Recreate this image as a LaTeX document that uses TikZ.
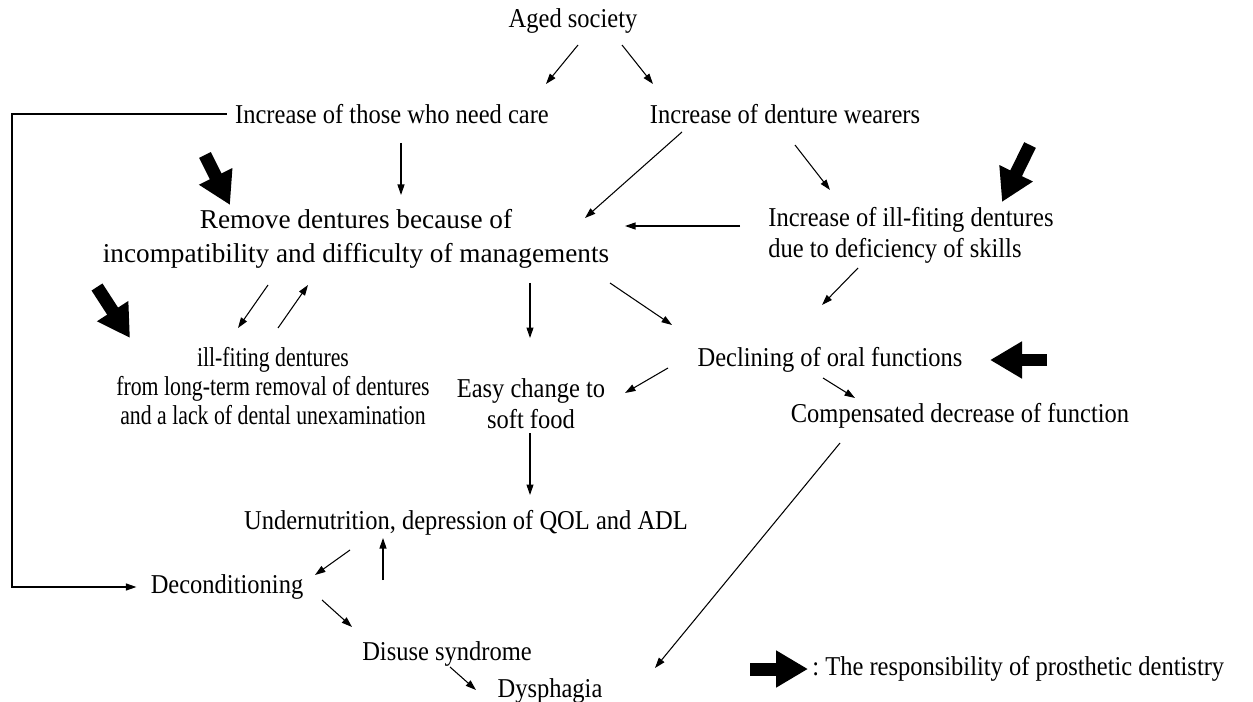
\documentclass[tikz,border=0pt]{standalone}
\usepackage{fontspec}
\setmainfont{Liberation Serif}[FakeStretch=0.9]
\newfontfamily\widerfont{Liberation Serif}[FakeStretch=1.0]
\newfontfamily\narrowerfont{Liberation Serif}[FakeStretch=0.8]
\usetikzlibrary{arrows.meta}
\begin{document}
\begin{tikzpicture}[x=0.02cm,y=-0.02cm,
  lbl/.style={inner sep=0pt, font=\fontsize{15.5pt}{17.5pt}\selectfont, align=center},
  narrowlbl/.style={lbl, font=\narrowerfont\fontsize{15.5pt}{16.5pt}\selectfont},
  arr/.style={line width=0.6pt, -{Triangle[length=0.21cm,width=0.14cm]}},
  bigarr/.style={line width=0.26cm, -{Triangle[length=0.64cm,width=0.7cm]}}]
\useasboundingbox (0,0) rectangle (1253,702);
% nodes
\node[lbl] (aged) at (573,21) {Aged society};
\node[lbl] (care) at (392,114) {Increase of those who need care};
\node[lbl] (wear) at (785,114) {Increase of denture wearers};
\node[lbl, font=\widerfont\fontsize{15.5pt}{19.5pt}\selectfont] (remove) at (356,239) {Remove dentures because of\\incompatibility and difficulty of managements};
\node[lbl, anchor=west, align=left] (illfit) at (768,235) {Increase of ill-fiting dentures\\due to deficiency of skills};
\node[narrowlbl] (illrem) at (273,386) {ill-fiting dentures\\from long-term removal of dentures\\and a lack of dental unexamination};
\node[lbl] (easy) at (531,404) {Easy change to\\soft food};
\node[lbl] (decl) at (830,360) {Declining of oral functions};
\node[lbl] (comp) at (960,416) {Compensated decrease of function};
\node[lbl] (under) at (466,523) {Undernutrition,\ depression of QOL and ADL};
\node[lbl] (decon) at (227,587) {Deconditioning};
\node[lbl] (disuse) at (447,654) {Disuse syndrome};
\node[lbl] (dysph) at (550,691) {Dysphagia};
\node[lbl, anchor=west] (legend) at (812,669) {:\ The responsibility of prosthetic dentistry};
\coordinate (bk) at (12,587);
% thin arrows
\draw[arr] ([shift={(5,24)}]aged.center) -- ([shift={(154,-30)}]care.center);
\draw[arr] ([shift={(49,24)}]aged.center) -- ([shift={(-132,-30)}]wear.center);
\draw[arr] ([shift={(9,29)}]care.center) -- ([shift={(45,-44)}]remove.center);
\draw[arr] ([shift={(-103,18)}]wear.center) -- ([shift={(229,-21)}]remove.center);
\draw[arr] ([shift={(10,31)}]wear.center) -- ([shift={(62,-45)}]illfit.west);
\draw[arr] ([shift={(-28,-9)}]illfit.west) -- ([shift={(269,-13)}]remove.center);
\draw[arr] ([shift={(-88,46)}]remove.center) -- ([shift={(-35,-58)}]illrem.center);
\draw[arr] ([shift={(5,-58)}]illrem.center) -- ([shift={(-48,46)}]remove.center);
\draw[arr] ([shift={(174,44)}]remove.center) -- ([shift={(-1,-66)}]easy.center);
\draw[arr] ([shift={(254,44)}]remove.center) -- ([shift={(-158,-35)}]decl.center);
\draw[arr] ([shift={(90,33)}]illfit.west) -- ([shift={(-8,-55)}]decl.center);
\draw[arr] ([shift={(-162,8)}]decl.center) -- ([shift={(94,-11)}]easy.center);
\draw[arr] ([shift={(-7,18)}]decl.center) -- ([shift={(-105,-18)}]comp.center);
\draw[arr] ([shift={(-1,29)}]easy.center) -- ([shift={(64,-28)}]under.center);
\draw[arr] ([shift={(-120,27)}]comp.center) -- ([shift={(105,-23)}]dysph.center);
\draw[arr] ([shift={(-116,27)}]under.center) -- ([shift={(88,-12)}]decon.center);
\draw[arr] ([shift={(-64,-74)}]disuse.center) -- ([shift={(-83,15)}]under.center);
\draw[arr] ([shift={(95,13)}]decon.center) -- ([shift={(-95,-27)}]disuse.center);
\draw[arr] ([shift={(3,13)}]disuse.center) -- ([shift={(-74,-1)}]dysph.center);
\draw[arr] ([shift={(-8,0)}]care.west) -| (bk) -- ([shift={(-14,0)}]decon.west);
% thick arrows
\draw[bigarr] ([shift={(-151,-84)}]remove.center) -- ([shift={(-126,-34)}]remove.center);
\draw[bigarr] ([shift={(-176,-99)}]illrem.center) -- ([shift={(-143,-48)}]illrem.center);
\draw[bigarr] ([shift={(262,-90)}]illfit.west) -- ([shift={(234,-33)}]illfit.west);
\draw[bigarr] ([shift={(217,0)}]decl.center) -- ([shift={(160,0)}]decl.center);
\draw[bigarr] ([shift={(-62,0)}]legend.west) -- ([shift={(-4,0)}]legend.west);
\end{tikzpicture}
\end{document}
